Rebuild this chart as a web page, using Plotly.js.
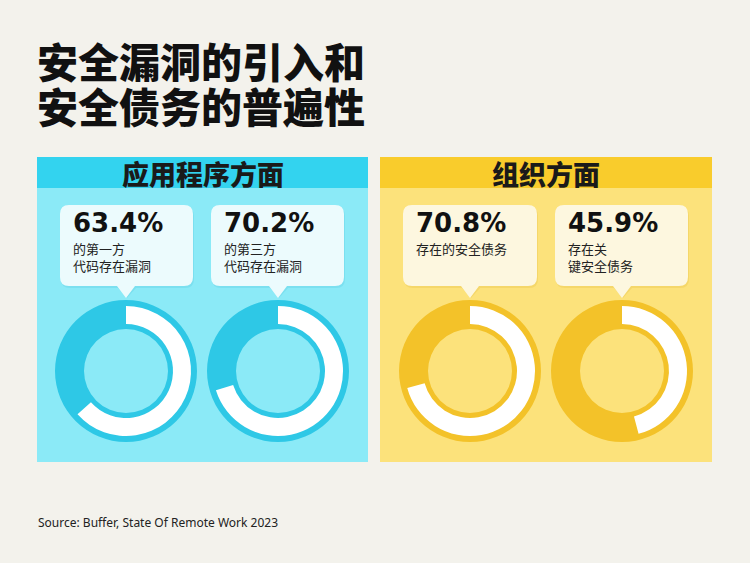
<!DOCTYPE html>
<html>
<head>
<meta charset="utf-8">
<script src="https://cdn.plot.ly/plotly-3.0.1.min.js"></script>
<style>html,body{margin:0;padding:0;background:#f3f2ec;}#chart{width:750px;height:563px;}</style>
</head>
<body>
<div id="chart"></div>
<script>
// ---- data ----
const titleLines = ['安全漏洞的引入和', '安全债务的普遍性'];
const sections = ['应用程序方面', '组织方面'];
const percentLabels = ['63.4%', '70.2%', '70.8%', '45.9%'];
const shares = [63.4, 70.2, 70.8, 45.9];
const captionLine1 = ['的第一方', '的第三方', '存在的安全债务', '存在关'];
const captionLine2 = ['代码存在漏洞', '代码存在漏洞', '', '键安全债务'];
const sourceText = 'Source: Buffer, State Of Remote Work 2023';

// ---- layout helpers ----
const W = 750, H = 563;
const px = x => x / W;
const py = y => 1 - y / H;

const panels = [
  {x0: 37, x1: 368, head: '#33d3ef', body: '#8beaf7', dark: '#2ec8e6', box: '#ecfbfd', shadow: '#5fcfe3'},
  {x0: 380, x1: 712, head: '#f9cc2c', body: '#fce27b', dark: '#f3c229', box: '#fdf7df', shadow: '#e8c24a'}
];
const panelTop = 157, headBottom = 188, panelBottom = 462;
const cxs = [126, 278, 470, 622];
const cy = 371, R = 71, Rw = 65, Rwi = 47, Rh = 42;
const boxes = [[60, 193], [211, 344], [403, 537], [555, 688]];
const boxTop = 205, boxBottom = 286, tipY = 298;

function calloutPath(x0, x1, y0, y1, tx, r) {
  const p = (x, y) => px(x) + ',' + py(y);
  return 'M' + p(x0 + r, y0) + ' L' + p(x1 - r, y0) +
    ' Q' + p(x1, y0) + ' ' + p(x1, y0 + r) +
    ' L' + p(x1, y1 - r) + ' Q' + p(x1, y1) + ' ' + p(x1 - r, y1) +
    ' L' + p(tx + 9, y1) + ' L' + p(tx, tipY) + ' L' + p(tx - 9, y1) +
    ' L' + p(x0 + r, y1) + ' Q' + p(x0, y1) + ' ' + p(x0, y1 - r) +
    ' L' + p(x0, y0 + r) + ' Q' + p(x0, y0) + ' ' + p(x0 + r, y0) + ' Z';
}

const shapes = [];
const annotations = [];
const traces = [];

titleLines.forEach((t, i) => {
  annotations.push({text: t, x: px(35), y: py(60 + i * 45), xref: 'paper', yref: 'paper',
    xanchor: 'left', yanchor: 'middle', showarrow: false,
    font: {family: 'Noto Sans CJK SC', size: 41, weight: 900, color: '#111111'}});
});

panels.forEach((pn, i) => {
  shapes.push({type: 'rect', xref: 'paper', yref: 'paper', x0: px(pn.x0), x1: px(pn.x1),
    y0: py(panelBottom), y1: py(panelTop), fillcolor: pn.body, line: {width: 0}, layer: 'below'});
  shapes.push({type: 'rect', xref: 'paper', yref: 'paper', x0: px(pn.x0), x1: px(pn.x1),
    y0: py(headBottom), y1: py(panelTop), fillcolor: pn.head, line: {width: 0}, layer: 'below'});
  annotations.push({text: sections[i], x: px((pn.x0 + pn.x1) / 2), y: py(173), xref: 'paper', yref: 'paper',
    xanchor: 'center', yanchor: 'middle', showarrow: false,
    font: {family: 'Noto Sans CJK SC', size: 27, weight: 900, color: '#1a1a1a'}});
});

shares.forEach((v, i) => {
  const pn = panels[Math.floor(i / 2)];
  const [bx0, bx1] = boxes[i];
  const cx = cxs[i];
  // callout shadow + box
  shapes.push({type: 'path', xref: 'paper', yref: 'paper', path: calloutPath(bx0 + 1, bx1 + 1, boxTop + 2, boxBottom + 2, cx + 1, 9),
    fillcolor: pn.shadow, opacity: 0.35, line: {width: 0}, layer: 'below'});
  shapes.push({type: 'path', xref: 'paper', yref: 'paper', path: calloutPath(bx0, bx1, boxTop, boxBottom, cx, 9),
    fillcolor: pn.box, line: {width: 0}, layer: 'below'});
  annotations.push({text: percentLabels[i], x: px(bx0 + 11), y: py(223), xref: 'paper', yref: 'paper',
    xanchor: 'left', yanchor: 'middle', showarrow: false,
    font: {family: 'DejaVu Sans', size: 26, weight: 'bold', color: '#111111'}});
  const two = !!captionLine2[i];
  const caption = two ? captionLine1[i] + '<br>' + captionLine2[i] : captionLine1[i];
  annotations.push({text: caption, x: px(bx0 + 11), y: py(two ? 256.5 : 248), xref: 'paper', yref: 'paper',
    xanchor: 'left', yanchor: 'middle', align: 'left', showarrow: false,
    font: {family: 'Noto Sans CJK SC', size: 13, color: '#222222'}});
  // full dark ring
  traces.push({type: 'pie', values: [100], labels: ['all'], sort: false, hole: Rh / R,
    marker: {colors: [pn.dark], line: {width: 0}}, textinfo: 'none', hoverinfo: 'skip', showlegend: false,
    domain: {x: [px(cx - R), px(cx + R)], y: [py(cy + R), py(cy - R)]}});
  // white share arc
  traces.push({type: 'pie', values: [v, 100 - v], labels: ['share', 'rest'], sort: false,
    direction: 'clockwise', rotation: 0, hole: Rwi / Rw,
    marker: {colors: ['#ffffff', 'rgba(0,0,0,0)'], line: {width: 0}}, textinfo: 'none', hoverinfo: 'skip', showlegend: false,
    domain: {x: [px(cx - Rw), px(cx + Rw)], y: [py(cy + Rw), py(cy - Rw)]}});
});

annotations.push({text: sourceText, x: px(36), y: py(522), xref: 'paper', yref: 'paper',
  xanchor: 'left', yanchor: 'middle', showarrow: false,
  font: {family: 'Noto Sans', size: 12, color: '#222222'}});

const layout = {
  width: W, height: H, margin: {l: 0, r: 0, t: 0, b: 0},
  paper_bgcolor: '#f3f2ec', plot_bgcolor: 'rgba(0,0,0,0)',
  showlegend: false, shapes: shapes, annotations: annotations
};
Plotly.newPlot('chart', traces, layout, {displayModeBar: false, staticPlot: true});
</script>
</body>
</html>
